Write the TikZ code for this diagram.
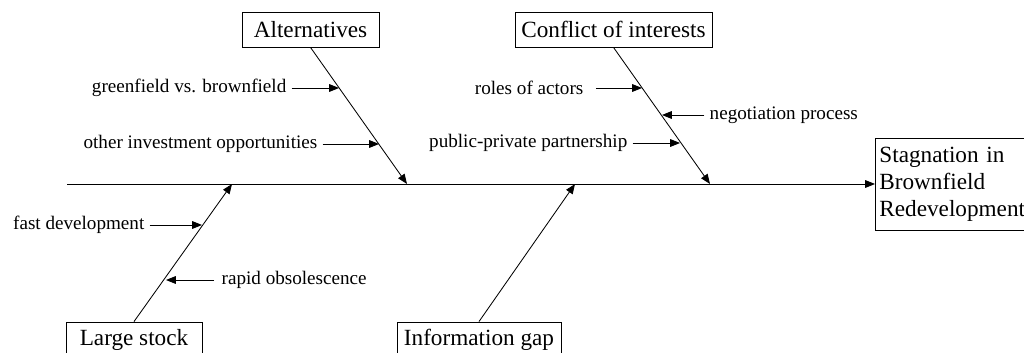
\documentclass[tikz,border=0pt]{standalone}
\usepackage{fontspec}
\setmainfont{Liberation Serif}
\usetikzlibrary{arrows.meta, positioning, calc}

\tikzset{
  cause/.style={draw, fill=white, line width=0.6pt, minimum height=0.875cm, inner xsep=0.1cm,
    font=\fontsize{16.5}{19.1}\selectfont},
  sub/.style={inner sep=1pt, font=\fontsize{13.6}{16}\selectfont},
  tip/.style={-{Triangle[length=7pt,width=5.5pt]}, line width=0.6pt},
  subtip/.style={tip, shorten <=2.5pt}
}

\begin{document}
\begin{tikzpicture}[x=0.025cm, y=-0.025cm]
          \useasboundingbox (0,0) rectangle (1024,353);

          % heads and effect
          \node[cause, minimum width=3.425cm] (alt) at (310.5,29.5) {Alternatives};
          \node[cause, minimum width=4.925cm] (conf) at (613.5,29.5) {Conflict of interests};
          \node[cause, minimum width=3.4cm] (stock) at (134,339.5) {Large stock};
          \node[cause, minimum width=4.1cm] (gap) at (479,339.5) {Information gap};
          \node[cause, anchor=west, align=left, minimum height=2.3cm, text width=3.9cm] (effect) at (875,184) {Stagnation in\\Brownfield\\Redevelopment};

          % spine and bones
          \coordinate (tail) at (67,184);
          \coordinate (a) at (407,184);
          \coordinate (c) at (710,184);
          \coordinate (s) at (232,184);
          \coordinate (i) at (575,184);
          \draw[tip] (tail) -- (effect);
          \draw[tip] (alt.south) -- (a);
          \draw[tip] (conf.south) -- (c);
          \draw[tip] (stock.north) -- (s);
          \draw[tip] (gap.north) -- (i);

          % sub causes
          \node[sub, anchor=east] (green) at (288,88) {greenfield vs. brownfield};
          \node[sub, anchor=east] (other) at (319,144) {other investment opportunities};
          \node[sub, anchor=east] (roles) at (585,88) {roles of actors};
          \node[sub, anchor=west] (nego) at (708,115) {negotiation process};
          \node[sub, anchor=east] (ppp) at (629,143) {public-private partnership};
          \node[sub, anchor=east] (fast) at (146,225) {fast development};
          \node[sub, anchor=west] (rapid) at (220,280) {rapid obsolescence};

          \coordinate (g1) at (339,88);
          \coordinate (o1) at (379,144);
          \coordinate (r1) at (642,88);
          \coordinate (n1) at (662,115);
          \coordinate (p1) at (680,143);
          \coordinate (f1) at (202,225);
          \coordinate (r2) at (166,280);

          \draw[subtip] (green) -- (g1);
          \draw[subtip] (other) -- (o1);
          \draw[tip, shorten <=0.27cm] (roles) -- (r1);
          \draw[subtip] (nego) -- (n1);
          \draw[subtip] (ppp) -- (p1);
          \draw[subtip] (fast) -- (f1);
          \draw[tip, shorten <=0.15cm] (rapid) -- (r2);
    \end{tikzpicture}
\end{document}
